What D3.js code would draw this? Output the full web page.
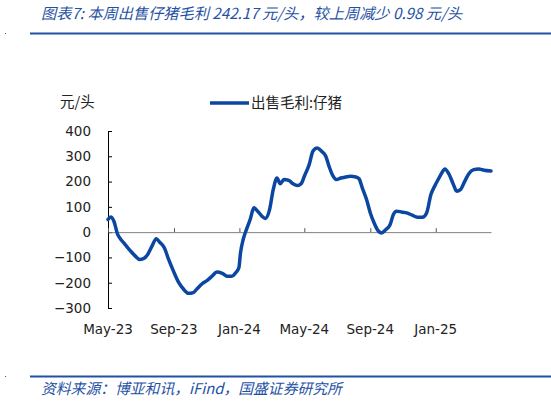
<!DOCTYPE html>
<html>
<head>
<meta charset="utf-8">
<script src="https://cdn.jsdelivr.net/npm/d3@7"></script>
<style>
  body { margin: 0; background: #fff; }
</style>
</head>
<body>
<svg id="chart" width="551" height="402"></svg>
<script>
// weekly gross margin for selling piglets, yuan per head
var dates = [
  "2023-05-01", "2023-05-06", "2023-05-12", "2023-05-19", "2023-05-24", "2023-06-02",
  "2023-06-11", "2023-06-21", "2023-06-29", "2023-07-06", "2023-07-14", "2023-07-22",
  "2023-07-30", "2023-08-05", "2023-08-14", "2023-08-22", "2023-08-31", "2023-09-10",
  "2023-09-19", "2023-09-28", "2023-10-07", "2023-10-14", "2023-10-23", "2023-11-02",
  "2023-11-11", "2023-11-20", "2023-11-30", "2023-12-09", "2023-12-18", "2023-12-24",
  "2023-12-31", "2024-01-03", "2024-01-08", "2024-01-14", "2024-01-21", "2024-01-28",
  "2024-02-04", "2024-02-12", "2024-02-18", "2024-02-26", "2024-03-04", "2024-03-11",
  "2024-03-17", "2024-03-24", "2024-04-02", "2024-04-10", "2024-04-18", "2024-04-25",
  "2024-05-01", "2024-05-10", "2024-05-17", "2024-05-25", "2024-06-02", "2024-06-10",
  "2024-06-16", "2024-06-22", "2024-06-30", "2024-07-08", "2024-07-17", "2024-07-26",
  "2024-08-05", "2024-08-11", "2024-08-17", "2024-08-25", "2024-09-01", "2024-09-08",
  "2024-09-15", "2024-09-22", "2024-09-30", "2024-10-08", "2024-10-14", "2024-10-20",
  "2024-10-29", "2024-11-08", "2024-11-18", "2024-11-28", "2024-12-07", "2024-12-15",
  "2024-12-23", "2024-12-30", "2025-01-07", "2025-01-13", "2025-01-18", "2025-01-26",
  "2025-02-03", "2025-02-09", "2025-02-16", "2025-02-24", "2025-03-04", "2025-03-13",
  "2025-03-22", "2025-04-01", "2025-04-14"
];
var margin = [
  50, 60, 43, -9, -26, -49,
  -72, -95, -108, -105, -88, -55,
  -26, -39, -62, -108, -154, -200,
  -226, -242, -239, -224, -205, -191,
  -174, -158, -163, -174, -174, -163,
  -141, -82, -29, 10, 50, 96,
  83, 63, 54, 87, 168, 214,
  191, 208, 205, 191, 184, 191,
  221, 267, 320, 333, 320, 300,
  261, 228, 208, 214, 218, 221,
  218, 211, 175, 129, 76, 37,
  7, -3, 10, 30, 70, 83,
  80, 76, 67, 59, 59, 76,
  149, 182, 214, 237, 250, 228,
  188, 162, 168, 201, 232, 247,
  250, 245, 242.17
];
var tickDates = ["2023-05-01", "2023-09-01", "2024-01-01", "2024-05-01", "2024-09-01", "2025-01-01"];
var yTicks = [-300, -200, -100, 0, 100, 200, 300, 400];

var titleText = "图表7:  本周出售仔猪毛利 242.17 元/头，较上周减少 0.98 元/头";
var sourceText = "资料来源：博亚和讯，iFind，国盛证券研究所";
var seriesName = "出售毛利:仔猪";
var unitText = "元/头";

var blue = "#0b47a1";
var titleBlue = "#1f52a3";
var cjk = "'Noto Sans CJK SC', sans-serif";
var latin = "'DejaVu Sans', sans-serif";

var parse = d3.timeParse("%Y-%m-%d");
var data = dates.map(function(d, i) { return {date: parse(d), value: margin[i]}; });

var svg = d3.select("#chart");

var x = d3.scaleTime()
    .domain([parse("2023-05-01"), parse("2025-04-14")])
    .range([108, 491]);
var y = d3.scaleLinear()
    .domain([-300, 400])
    .range([308, 131]);

// header
svg.append("text")
    .attr("x", 41).attr("y", 19)
    .attr("fill", titleBlue)
    .style("font-family", cjk)
    .attr("font-size", 15.2)
    .attr("font-style", "italic")
    .text(titleText);
svg.append("line")
    .attr("x1", 30).attr("x2", 551).attr("y1", 33.5).attr("y2", 33.5)
    .attr("stroke", titleBlue).attr("stroke-width", 2);
svg.append("rect").attr("x", 5).attr("y", 33).attr("width", 1).attr("height", 1).attr("fill", "#555");

// footer
svg.append("line")
    .attr("x1", 30).attr("x2", 551).attr("y1", 376.5).attr("y2", 376.5)
    .attr("stroke", titleBlue).attr("stroke-width", 2);
svg.append("rect").attr("x", 5).attr("y", 376).attr("width", 1).attr("height", 1).attr("fill", "#555");
svg.append("text")
    .attr("x", 41).attr("y", 394)
    .attr("fill", titleBlue)
    .style("font-family", cjk)
    .attr("font-size", 14.8)
    .attr("font-style", "italic")
    .text(sourceText);

// unit + legend
svg.append("text")
    .attr("x", 60).attr("y", 107)
    .style("font-family", cjk)
    .attr("font-size", 14.5)
    .attr("fill", "#222")
    .text(unitText);
svg.append("line")
    .attr("x1", 210).attr("x2", 249).attr("y1", 103).attr("y2", 103)
    .attr("stroke", blue).attr("stroke-width", 3.5);
svg.append("text")
    .attr("x", 251).attr("y", 108)
    .style("font-family", cjk)
    .attr("font-size", 14.5)
    .attr("fill", "#222")
    .text(seriesName);

// y axis, ticks pointing inward
var yAxis = svg.append("g")
    .attr("transform", "translate(108,0)")
    .call(d3.axisRight(y).tickValues(yTicks).tickSize(4).tickFormat(d3.format("d")));
yAxis.select(".domain").attr("stroke", "#000");
yAxis.selectAll(".tick line").attr("stroke", "#000");
yAxis.selectAll(".tick text")
    .attr("x", -17)
    .attr("text-anchor", "end")
    .style("font-family", latin)
    .style("font-size", "13.5px")
    .attr("fill", "#222");

// zero line with upward ticks
var xAxis = svg.append("g")
    .attr("transform", "translate(0," + y(0) + ")")
    .call(d3.axisTop(x).tickValues(tickDates.map(parse)).tickSize(4).tickSizeOuter(0).tickFormat(""));
xAxis.select(".domain").attr("stroke", "#808080");
xAxis.selectAll(".tick line").attr("stroke", "#555");

// month labels below the plot
svg.append("g").selectAll("text")
    .data(tickDates.map(parse))
    .join("text")
    .attr("x", function(d) { return x(d); })
    .attr("y", 334)
    .attr("text-anchor", "middle")
    .style("font-family", latin)
    .style("font-size", "13.5px")
    .attr("fill", "#222")
    .text(d3.timeFormat("%b-%y"));

// series
var line = d3.line()
    .x(function(d) { return x(d.date); })
    .y(function(d) { return y(d.value); })
    .curve(d3.curveMonotoneX);

svg.append("path")
    .datum(data)
    .attr("fill", "none")
    .attr("stroke", blue)
    .attr("stroke-width", 3.5)
    .attr("stroke-linejoin", "round")
    .attr("stroke-linecap", "round")
    .attr("d", line);
</script>
</body>
</html>
